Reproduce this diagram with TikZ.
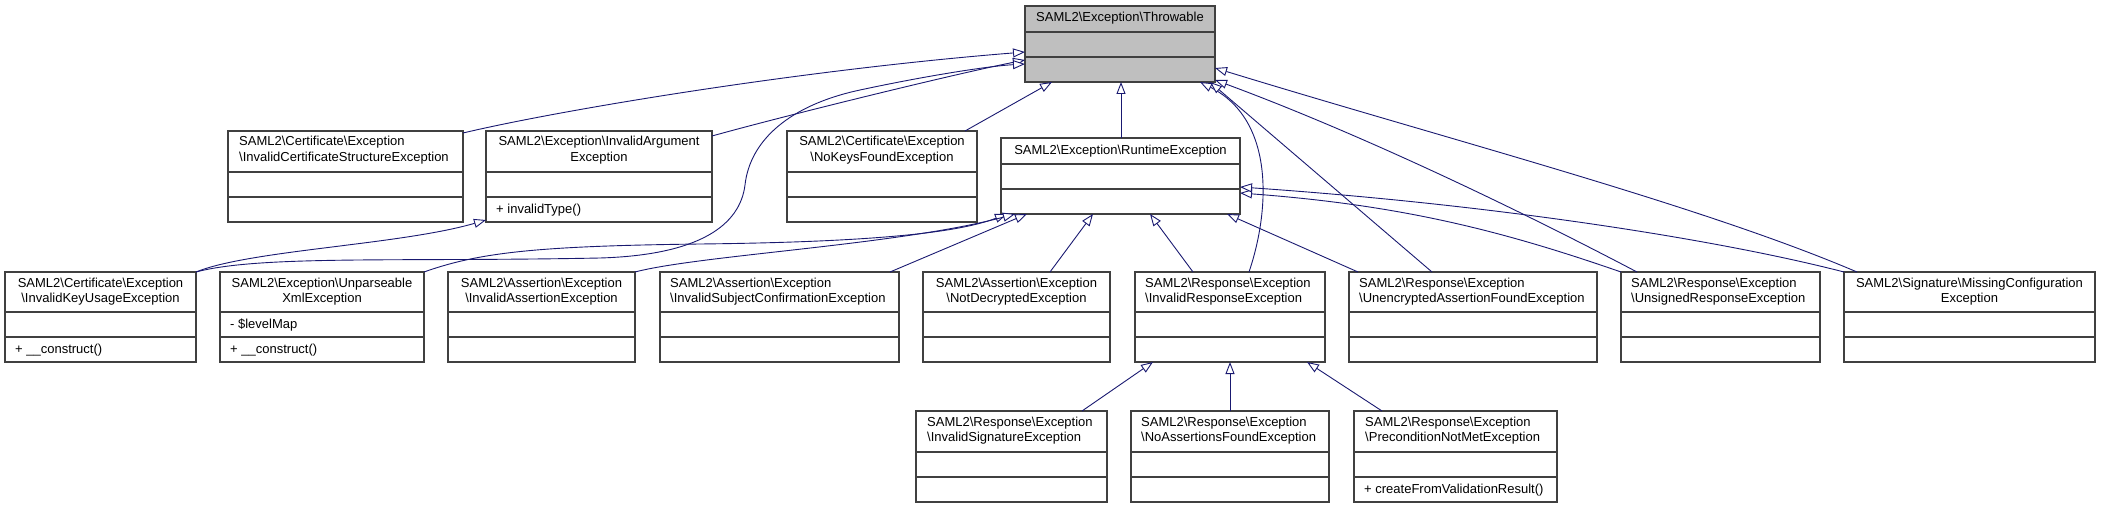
\documentclass[tikz,border=0pt]{standalone}
\usepackage{fontspec}
\setmainfont{Liberation Sans}
\usetikzlibrary{arrows.meta,calc}
\definecolor{edgeblue}{HTML}{191970}
\definecolor{boxgray}{HTML}{BFBFBF}
\definecolor{boxline}{HTML}{404040}
\newcommand\bs{\textbackslash}
\tikzset{
  umlbox/.style={draw=boxline, line width=1.2pt, inner sep=0pt, outer sep=0pt, anchor=north west},
  sepline/.style={draw=boxline, line width=1.2pt},
  txt/.style={font=\fontsize{13}{15}\selectfont, inner sep=0pt, anchor=base},
  ltxt/.style={txt, anchor=base west},
  inherit/.style={draw=edgeblue, line width=0.9pt, -{Triangle[length=12pt,width=9pt,fill=white]}},
}
\newcommand\ubox[6][white]{%
  \node[umlbox, fill=#1, minimum width={(#5-#3)*1pt}, minimum height={(#6-#4)*1pt}] (#2) at (#3,#4) {};
  \draw[sepline] (#3,#6-50) -- (#5,#6-50) (#3,#6-25) -- (#5,#6-25);
}
\begin{document}
\begin{tikzpicture}[x=1pt,y=-1pt]
\useasboundingbox (0,0) rectangle (2102,508);
% ---------- boxes ----------
\ubox[boxgray]{thr}{1025}{6}{1215}{82}
\node[txt] (thrA) at (1120,22) {SAML2\bs Exception\bs Throwable};

\ubox{cs}{228}{131}{463}{222}
\node[ltxt] (csA) at (239,146) {SAML2\bs Certificate\bs Exception};
\node[ltxt] (csB) at (239,161) {\bs InvalidCertificateStructureException};

\ubox{ia}{486}{131}{712}{222}
\node[txt] (iaA) at (599,146) {SAML2\bs Exception\bs InvalidArgument};
\node[txt] (iaB) at (599,161) {Exception};
\node[ltxt] (iaM) at (496,213) {+ invalidType()};

\ubox{nk}{787}{131}{977}{222}
\node[txt] (nkA) at (882,146) {SAML2\bs Certificate\bs Exception};
\node[txt] (nkB) at (882,161) {\bs NoKeysFoundException};

\ubox{rt}{1001}{138}{1240}{214}
\node[txt] (rtA) at (1120.5,154) {SAML2\bs Exception\bs RuntimeException};

% row 2
\ubox{kus}{5}{272}{196}{362}
\node[txt] (kusA) at (100.5,287) {SAML2\bs Certificate\bs Exception};
\node[txt] (kusB) at (100.5,302) {\bs InvalidKeyUsageException};
\node[ltxt] (kusM) at (15,353) {+ \_\_construct()};

\ubox{up}{220}{272}{424}{362}
\node[txt] (upA) at (322,287) {SAML2\bs Exception\bs Unparseable};
\node[txt] (upB) at (322,302) {XmlException};
\node[ltxt] (upV) at (230,328) {- \$levelMap};
\node[ltxt] (upM) at (230,353) {+ \_\_construct()};

\ubox{iae}{448}{272}{635}{362}
\node[txt] (iaeA) at (541.5,287) {SAML2\bs Assertion\bs Exception};
\node[txt] (iaeB) at (541.5,302) {\bs InvalidAssertionException};

\ubox{isc}{660}{272}{899}{362}
\node[ltxt] (iscA) at (670,287) {SAML2\bs Assertion\bs Exception};
\node[ltxt] (iscB) at (670,302) {\bs InvalidSubjectConfirmationException};

\ubox{nd}{923}{272}{1110}{362}
\node[txt] (ndA) at (1016.5,287) {SAML2\bs Assertion\bs Exception};
\node[txt] (ndB) at (1016.5,302) {\bs NotDecryptedException};

\ubox{ir}{1135}{272}{1325}{362}
\node[ltxt] (irA) at (1145,287) {SAML2\bs Response\bs Exception};
\node[ltxt] (irB) at (1145,302) {\bs InvalidResponseException};

\ubox{ue}{1349}{272}{1597}{362}
\node[ltxt] (ueA) at (1359,287) {SAML2\bs Response\bs Exception};
\node[ltxt] (ueB) at (1359,302) {\bs UnencryptedAssertionFoundException};

\ubox{us}{1621}{272}{1820}{362}
\node[ltxt] (usA) at (1631,287) {SAML2\bs Response\bs Exception};
\node[ltxt] (usB) at (1631,302) {\bs UnsignedResponseException};

\ubox{mc}{1844}{272}{2095}{362}
\node[txt] (mcA) at (1969.5,287) {SAML2\bs Signature\bs MissingConfiguration};
\node[txt] (mcB) at (1969.5,302) {Exception};

% row 3
\ubox{isg}{916}{411}{1107}{502}
\node[ltxt] (isgA) at (927,426) {SAML2\bs Response\bs Exception};
\node[ltxt] (isgB) at (927,441) {\bs InvalidSignatureException};

\ubox{na}{1131}{411}{1329}{502}
\node[ltxt] (naA) at (1141,426) {SAML2\bs Response\bs Exception};
\node[ltxt] (naB) at (1141,441) {\bs NoAssertionsFoundException};

\ubox{pn}{1354}{411}{1557}{502}
\node[ltxt] (pnA) at (1365,426) {SAML2\bs Response\bs Exception};
\node[ltxt] (pnB) at (1365,441) {\bs PreconditionNotMetException};
\node[ltxt] (pnM) at (1364,493) {+ createFromValidationResult()};

% ---------- edges into Throwable ----------
\draw[inherit] ($(cs.north east)+(0,2)$) .. controls (560,110) and (800,70) .. ($(thr.north west)+(0,46)$);
\draw[inherit] ($(ia.north east)+(0,5)$) .. controls (780,117) and (950,75) .. ($(thr.north west)+(0,54)$);
\draw[inherit] (kus.north east) .. controls (260,255) and (400,262) .. (600,258)
   .. controls (700,255) and (740,225) .. (745,185)
   .. controls (750,140) and (790,105) .. (860,90)
   .. controls (930,75) and (990,66) .. ($(thr.north west)+(0,58)$);
\draw[inherit] ($(nk.north east)+(-12,0)$) -- ($(thr.south west)+(27,0)$);
\draw[inherit] ($(rt.north west)+(120,0)$) -- ($(thr.south west)+(96,0)$);
\draw[inherit] ($(ir.north west)+(114,0)$) .. controls (1270,210) and (1275,120) .. ($(thr.south east)+(-15,0)$);
\draw[inherit] ($(ue.north west)+(83,0)$) -- ($(thr.south east)+(-5,0)$);
\draw[inherit] ($(us.north west)+(16,0)$) .. controls (1500,200) and (1350,130) .. ($(thr.north east)+(0,74)$);
\draw[inherit] ($(mc.north west)+(13,0)$) .. controls (1700,205) and (1450,140) .. ($(thr.north east)+(0,62)$);

% ---------- edges into InvalidArgumentException ----------
\draw[inherit] (kus.north east) .. controls (250,250) and (400,245) .. ($(ia.south west)+(0,-2)$);

% ---------- edges into RuntimeException ----------
\draw[inherit] (up.north east) .. controls (480,252) and (540,246) .. (700,244)
   .. controls (880,242) and (960,232) .. ($(rt.south west)+(6,0)$);
\draw[inherit] (iae.north east) .. controls (700,255) and (900,245) .. ($(rt.south west)+(14,0)$);
\draw[inherit] ($(isc.north east)+(-9,0)$) -- ($(rt.south west)+(26,0)$);
\draw[inherit] ($(nd.north west)+(127,0)$) -- ($(rt.south west)+(92,0)$);
\draw[inherit] ($(ir.north west)+(58,0)$) -- ($(rt.south west)+(149,0)$);
\draw[inherit] ($(ue.north west)+(9,0)$) -- ($(rt.south west)+(226,0)$);
\draw[inherit] (us.north west) .. controls (1500,230) and (1400,205) .. ($(rt.north east)+(0,55)$);
\draw[inherit] (mc.north west) .. controls (1720,240) and (1500,205) .. ($(rt.north east)+(0,49)$);

% ---------- edges into InvalidResponseException ----------
\draw[inherit] ($(isg.north west)+(166,0)$) -- ($(ir.south west)+(18,0)$);
\draw[inherit] ($(na.north west)+(99,0)$) -- ($(ir.south west)+(95,0)$);
\draw[inherit] ($(pn.north west)+(28,0)$) -- ($(ir.south east)+(-18,0)$);
\end{tikzpicture}
\end{document}
